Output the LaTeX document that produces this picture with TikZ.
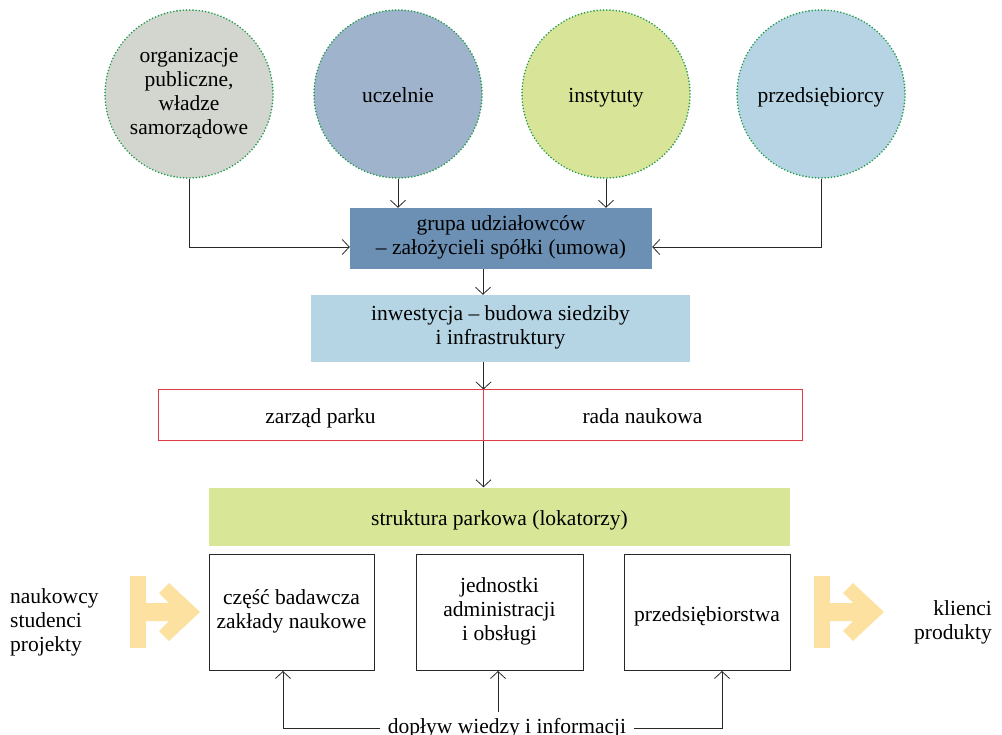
\documentclass[tikz,border=0pt]{standalone}
\usepackage{fontspec}
\setmainfont{Liberation Serif}
\usetikzlibrary{arrows.meta}

\definecolor{dotgreen}{RGB}{30,155,75}
\definecolor{cgray}{RGB}{211,213,207}
\definecolor{cblue}{RGB}{160,179,205}
\definecolor{clime}{RGB}{216,229,152}
\definecolor{csky}{RGB}{182,212,227}
\definecolor{boxdark}{RGB}{108,143,180}
\definecolor{boxsky}{RGB}{182,213,228}
\definecolor{boxlime}{RGB}{216,230,152}
\definecolor{frame}{RGB}{224,60,72}
\definecolor{yel}{RGB}{253,225,160}
\definecolor{ink}{RGB}{40,40,40}

\tikzset{
  % fixed first-line height and last-line depth, so baselines sit on a common grid
  strutted/.style={execute at begin node={\rule{0pt}{24pt}},
    execute at end node={\rule[-6pt]{0pt}{6pt}}},
  party/.style={circle, minimum size=168pt, inner sep=0pt, draw=dotgreen,
    line width=1.8pt, dash pattern=on 0pt off 3.2pt, line cap=round, align=center, strutted},
  block/.style={rectangle, inner sep=0pt, align=center, strutted},
  cell/.style={rectangle, inner sep=0pt, align=center, draw=frame, line width=1pt, strutted},
  unit/.style={rectangle, inner sep=0pt, align=center, draw=ink, line width=0.9pt, strutted},
  arr/.style={draw=ink, line width=0.8pt, -{Straight Barb[length=7pt,width=15pt]}},
  flowarrow/.pic={
    \fill[yel] (0,-36) rectangle (16,36);
    \fill[yel] (16,-9) -- (39,-9) -- (29,-19) -- (39,-29) -- (70,0)
      -- (39,29) -- (29,19) -- (39,9) -- (16,9) -- cycle;
  }
}

\begin{document}
\begin{tikzpicture}[x=1pt, y=-1pt, font=\fontsize{21.5}{24}\selectfont]
\useasboundingbox (0,0) rectangle (1002,735);

% founding parties
\node[party, fill=cgray] (c1) at (189,94) {organizacje\\publiczne,\\władze\\samorządowe};
\node[party, fill=cblue] (c2) at (398,94) {uczelnie};
\node[party, fill=clime] (c3) at (606,94) {instytuty};
\node[party, fill=csky]  (c4) at (821,94) {przedsiębiorcy};

% main chain
\node[block, fill=boxdark, minimum width=302pt, minimum height=61pt] (grupa) at (501,238.5)
  {grupa udziałowców\\– założycieli spółki (umowa)};
\node[block, fill=boxsky, minimum width=379pt, minimum height=67pt] (inwest) at (500.5,328.5)
  {inwestycja – budowa siedziby\\i infrastruktury};
\node[cell, minimum width=325pt, minimum height=50pt] (zarzad) at (320.5,415) {zarząd parku};
\node[cell, minimum width=319pt, minimum height=50pt] (rada) at (642.5,415) {rada naukowa};
\node[block, fill=boxlime, minimum width=581pt, minimum height=58pt] (struktura) at (499.5,516.5)
  {struktura parkowa (lokatorzy)};

% park units
\node[unit, minimum width=165pt, minimum height=116pt] (b1) at (291.5,612.5)
  {część badawcza\\zakłady naukowe};
\node[unit, minimum width=167pt, minimum height=116pt] (b2) at (499.5,612.5)
  {jednostki\\administracji\\i obsługi};
\node[unit, minimum width=166pt, minimum height=116pt] (b3) at (707,612.5)
  {przedsiębiorstwa};

% inputs and outputs
\node[anchor=west, align=left, inner sep=0pt, strutted] (src) at (10,623.5) {naukowcy\\studenci\\projekty};
\node[anchor=east, align=right, inner sep=0pt, strutted] (out) at (992,623) {klienci\\produkty};
\pic at (130,612) {flowarrow};
\pic at (814,612) {flowarrow};

% knowledge flow label
\node[inner xsep=8pt, inner ysep=6pt] (flow) at (507,728) {dopływ wiedzy i informacji};

% connectors
\draw[arr] (c1.south) |- ([yshift=-8.5pt]grupa.west);
\draw[arr] (c2.south) -- (c2.south |- grupa.north);
\draw[arr] (c3.south) -- (c3.south |- grupa.north);
\draw[arr] (c4.south) |- ([yshift=-8.5pt]grupa.east);
\draw[arr] ([xshift=-18pt]grupa.south) -- ([xshift=-18pt]grupa.south |- inwest.north);
\draw[arr] (zarzad.north east |- inwest.south) -- (zarzad.north east);
\draw[arr] (zarzad.south east) -- (zarzad.south east |- struktura.north);
\draw[frame, line width=1pt] (zarzad.north east) -- (zarzad.south east);

\draw[arr] (flow.west) -| ([xshift=-8.5pt]b1.south);
\draw[arr] ([xshift=-1.5pt]b2.south |- flow.north) -- ([xshift=-1.5pt]b2.south);
\draw[arr] (flow.east) -| ([xshift=15pt]b3.south);
\end{tikzpicture}
\end{document}
